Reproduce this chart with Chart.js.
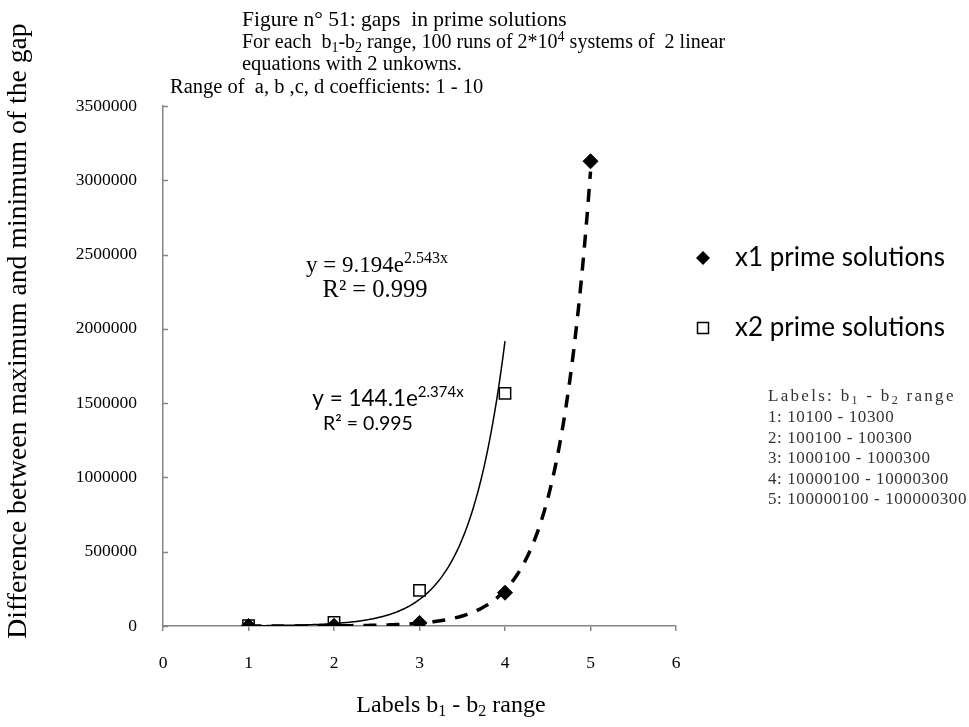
<!DOCTYPE html>
<html>
<head>
<meta charset="utf-8">
<script src="https://cdn.jsdelivr.net/npm/chart.js@4.4.1/dist/chart.umd.min.js"></script>
<style>
  html, body { margin: 0; padding: 0; background: #fff; }
  #wrap { width: 969px; height: 727px; }
</style>
</head>
<body>
<div id="wrap"><canvas id="gapChart" width="969" height="727"></canvas></div>
<script>
// data
const rangeIds = [1, 2, 3, 4, 5];
const x1Gaps = [120, 1500, 21000, 224000, 3128000];
const x2Gaps = [1500, 24000, 240000, 1566000];
// exponential trendlines y = a * e^(b x), coefficients as printed on the chart
const x1Fit = [9.194, 2.543];
const x2Fit = [144.1, 2.374];
const x1FitRange = [1, 5];
const x2FitRange = [1, 4];
const xTicks = [0, 1, 2, 3, 4, 5, 6];
const yTicks = [0, 500000, 1000000, 1500000, 2000000, 2500000, 3000000, 3500000];
const rangeNames = ['10100 - 10300', '100100 - 100300', '1000100 - 1000300',
                    '10000100 - 10000300', '100000100 - 100000300'];

const SERIF = '"Liberation Serif", "Times New Roman", serif';
const SANS = 'Lato, Carlito, sans-serif';
const AXIS_GRAY = '#868686';

function fitPoints(coef, range) {
  const pts = [];
  for (let x = range[0]; x <= range[1] + 1e-9; x += 0.02) {
    pts.push({ x: x, y: coef[0] * Math.exp(coef[1] * x) });
  }
  return pts;
}

// draw a line of text made of runs: [text, mode] with mode 0 normal, 1 superscript, -1 subscript
function rich(ctx, runs, x, y, size, family, align) {
  let total = 0;
  const parts = runs.map(([t, m]) => {
    const s = m ? Math.round(size * 0.68) : size;
    ctx.font = s + 'px ' + family;
    const w = ctx.measureText(t).width;
    total += w;
    return { t, m, s, w };
  });
  let cx = align === 'center' ? x - total / 2 : align === 'right' ? x - total : x;
  ctx.textAlign = 'left';
  ctx.textBaseline = 'middle';
  parts.forEach(p => {
    ctx.font = p.s + 'px ' + family;
    const dy = p.m === 1 ? -size * 0.3 : p.m === -1 ? size * 0.25 : 0;
    ctx.fillText(p.t, cx, y + dy);
    cx += p.w;
  });
}

const extras = {
  id: 'extras',
  afterDraw(chart) {
    const ctx = chart.ctx;
    const xs = chart.scales.x, ys = chart.scales.y;
    ctx.save();

    // y ticks point into the plot
    ctx.strokeStyle = AXIS_GRAY;
    ctx.lineWidth = 1.5;
    yTicks.forEach(v => {
      const py = Math.round(ys.getPixelForValue(v)) + 0.5;
      ctx.beginPath();
      ctx.moveTo(xs.left, py);
      ctx.lineTo(xs.left + 5, py);
      ctx.stroke();
    });

    ctx.fillStyle = '#000';
    // heading block
    rich(ctx, [['Figure n° 51: gaps  in prime solutions', 0]], 242, 20, 21.5, SERIF, 'left');
    rich(ctx, [['For each  b', 0], ['1', -1], ['-b', 0], ['2', -1],
               [' range, 100 runs of 2*10', 0], ['4', 1], [' systems of  2 linear', 0]],
         242, 43, 20, SERIF, 'left');
    rich(ctx, [['equations with 2 unkowns.', 0]], 242, 65, 20.5, SERIF, 'left');
    rich(ctx, [['Range of  a, b ,c, d coefficients: 1 - 10', 0]], 170, 88, 20.5, SERIF, 'left');

    // axis titles
    rich(ctx, [['Labels b', 0], ['1', -1], [' - b', 0], ['2', -1], [' range', 0]],
         451, 706, 24, SERIF, 'center');
    ctx.save();
    ctx.translate(19, 331);
    ctx.rotate(-Math.PI / 2);
    rich(ctx, [['Difference between maximum and minimum of the gap', 0]], 0, 0, 27.7, SERIF, 'center');
    ctx.restore();

    // trendline equations
    rich(ctx, [['y = 9.194e', 0], ['2.543x', 1]], 377, 266, 23, SERIF, 'center');
    rich(ctx, [['R² = 0.999', 0]], 375, 291, 24.5, SERIF, 'center');
    rich(ctx, [['y = 144.1e', 0], ['2.374x', 1]], 388, 399, 22.5, SANS, 'center');
    rich(ctx, [['R² = 0.995', 0]], 368, 424, 19.5, SANS, 'center');

    // legend
    const ds = chart.data.datasets;
    [[0, 258], [1, 328]].forEach(([i, ly]) => {
      const d = ds[i];
      ctx.save();
      ctx.fillStyle = d.backgroundColor;
      ctx.strokeStyle = d.borderColor;
      ctx.lineWidth = 1.5;
      ctx.beginPath();
      if (d.pointStyle === 'rectRot') {
        const r = 7;
        ctx.moveTo(703, ly - r); ctx.lineTo(703 + r, ly); ctx.lineTo(703, ly + r); ctx.lineTo(703 - r, ly);
        ctx.closePath(); ctx.fill();
      } else {
        ctx.rect(697.5, ly - 5.5, 11, 11); ctx.fill(); ctx.stroke();
      }
      ctx.restore();
      rich(ctx, [[d.label, 0]], 735, ly, 26, SANS, 'left');
    });

    // range key
    ctx.fillStyle = '#333';
    ctx.letterSpacing = '2.3px';
    rich(ctx, [['Labels: b', 0], ['1', -1], [' - b', 0], ['2', -1], [' range', 0]], 768, 397, 17, SERIF, 'left');
    ctx.letterSpacing = '0.6px';
    rangeNames.forEach((n, i) => {
      rich(ctx, [[rangeIds[i] + ': ' + n, 0]], 768, 418 + i * 20.4, 17, SERIF, 'left');
    });
    ctx.letterSpacing = '0px';
    ctx.restore();
  }
};

new Chart(document.getElementById('gapChart'), {
  type: 'scatter',
  data: {
    datasets: [
      {
        label: 'x1 prime solutions',
        data: rangeIds.map((x, i) => ({ x: x, y: x1Gaps[i] })),
        pointStyle: 'rectRot', pointRadius: 7.5, pointHoverRadius: 7.5,
        backgroundColor: '#000', borderColor: '#000', borderWidth: 1,
        order: 0
      },
      {
        label: 'x2 prime solutions',
        data: x2Gaps.map((v, i) => ({ x: rangeIds[i], y: v })),
        pointStyle: 'rect', pointRadius: 8, pointHoverRadius: 8,
        backgroundColor: '#fff', borderColor: '#000', borderWidth: 1.5,
        order: 1
      },
      {
        label: 'x1 fit',
        type: 'line',
        data: fitPoints(x1Fit, x1FitRange),
        borderColor: '#000', borderWidth: 3.5, borderDash: [13, 10],
        pointRadius: 0, tension: 0, fill: false,
        order: 2
      },
      {
        label: 'x2 fit',
        type: 'line',
        data: fitPoints(x2Fit, x2FitRange),
        borderColor: '#000', borderWidth: 1.5,
        pointRadius: 0, tension: 0, fill: false,
        order: 3
      }
    ]
  },
  options: {
    responsive: false,
    animation: false,
    layout: { padding: { top: 106, right: 293, left: 0, bottom: 0 } },
    plugins: { legend: { display: false }, tooltip: { enabled: false } },
    scales: {
      x: {
        type: 'linear', min: 0, max: 6,
        afterFit: s => { s.height = 101; },
        afterBuildTicks: s => { s.ticks = xTicks.map(v => ({ value: v })); },
        grid: { drawOnChartArea: false, drawTicks: true, tickLength: 5, color: AXIS_GRAY, lineWidth: 1.5 },
        border: { color: AXIS_GRAY, width: 1.5 },
        ticks: { color: '#000', padding: 22, font: { family: SERIF, size: 17.5 } }
      },
      y: {
        type: 'linear', min: 0, max: 3500000,
        afterFit: s => { s.width = 163; },
        afterBuildTicks: s => { s.ticks = yTicks.map(v => ({ value: v })); },
        grid: { drawOnChartArea: false, drawTicks: false },
        border: { color: AXIS_GRAY, width: 1.5 },
        ticks: { color: '#000', padding: 26, font: { family: SERIF, size: 17.5 }, callback: v => String(v) }
      }
    }
  },
  plugins: [extras]
});
</script>
</body>
</html>
